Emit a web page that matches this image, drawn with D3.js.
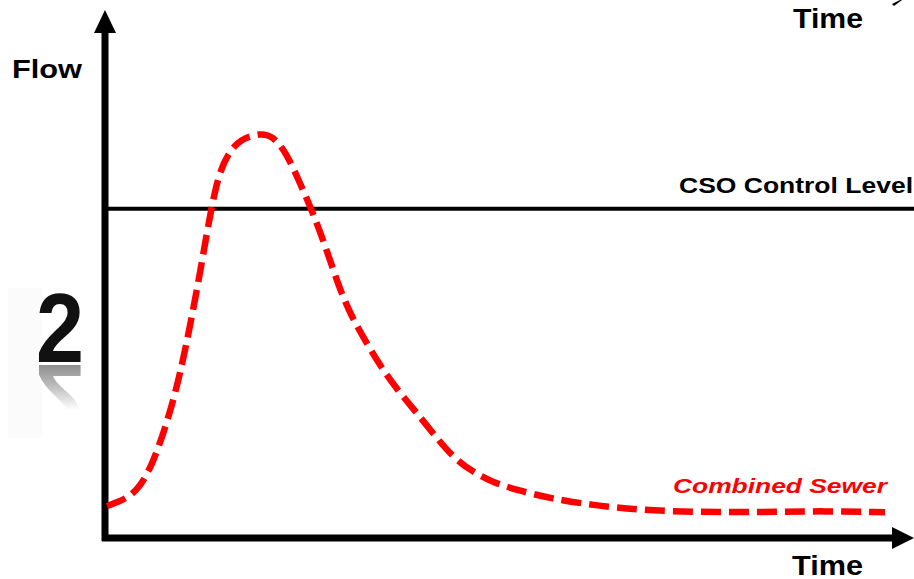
<!DOCTYPE html>
<html>
<head>
<meta charset="utf-8">
<script src="https://cdn.jsdelivr.net/npm/d3@7"></script>
<style>
  html, body { margin: 0; padding: 0; background: #fff; }
  svg { display: block; }
  text { font-family: "Liberation Sans", Arial, Helvetica, sans-serif; }
</style>
</head>
<body>
<svg id="chart" width="914" height="579"></svg>
<script>
// ---- data (time in arbitrary units 0-100, flow in arbitrary units 0-100) ----
const sewerTime = [0.25, 1.5, 3.5, 5.2, 6.6, 8.1, 9.4, 10.6, 11.9, 12.9, 14.1, 15.4, 16.9, 19.4, 21,
  22.75, 24.4, 25.9, 27.75, 29.1, 30.6, 32.75, 34.75, 36.9, 39, 41, 43.5, 46, 48.5, 51.5, 55.6, 61,
  66.9, 74.4, 81.9, 89.4, 97.5];
const sewerFlow = [8.3, 9.2, 11.0, 15.5, 22.0, 31.0, 40.7, 52.0, 65.5, 77.0, 89.0, 94.6, 98.0, 99.5, 98.8,
  94.4, 87.1, 80.5, 70.7, 62.7, 55.4, 48.0, 41.5, 35.9, 31.0, 26.1, 20.2, 16.6, 14.1, 12.2, 10.2, 8.5,
  7.3, 6.8, 6.8, 7.1, 6.8];
const csoLevel = [81.0];
const labels = ["Flow", "Time", "CSO Control Level", "Combined Sewer", "2"];

const svg = d3.select("#chart");
const x = d3.scaleLinear().domain([0, 100]).range([105, 905]);
const y = d3.scaleLinear().domain([0, 100]).range([540, 131]);

// ---- "2" with reflection ----
const defs = svg.append("defs");
const grad = defs.append("linearGradient").attr("id", "reflGrad")
  .attr("gradientUnits", "userSpaceOnUse")
  .attr("x1", 0).attr("y1", 364).attr("x2", 0).attr("y2", 410);
grad.append("stop").attr("offset", "0%").attr("stop-color", "#fff");
grad.append("stop").attr("offset", "45%").attr("stop-color", "#999");
grad.append("stop").attr("offset", "100%").attr("stop-color", "#000");
defs.append("mask").attr("id", "reflMask")
  .attr("maskUnits", "userSpaceOnUse")
  .attr("x", 0).attr("y", 364).attr("width", 100).attr("height", 46)
  .append("rect").attr("x", 0).attr("y", 364).attr("width", 100).attr("height", 46)
  .attr("fill", "url(#reflGrad)");

// faint backdrop panel
svg.append("rect").attr("x", 8).attr("y", 288).attr("width", 34).attr("height", 150)
  .attr("fill", "#fbfbfb");

svg.append("g").attr("mask", "url(#reflMask)")
  .append("g").attr("transform", "translate(0,727) scale(1,-1)")
  .append("text")
  .attr("x", 36).attr("y", 362)
  .attr("font-size", 98).attr("font-weight", "bold")
  .attr("textLength", 48).attr("lengthAdjust", "spacingAndGlyphs")
  .attr("fill", "#8c8c8c")
  .text(labels[4]);

svg.append("text")
  .attr("x", 36).attr("y", 362)
  .attr("font-size", 98).attr("font-weight", "bold")
  .attr("textLength", 48).attr("lengthAdjust", "spacingAndGlyphs")
  .attr("fill", "#111")
  .text(labels[4]);

// ---- axes ----
const axisColor = "#000";
svg.append("line")
  .attr("x1", 105).attr("y1", 541).attr("x2", 105).attr("y2", 28)
  .attr("stroke", axisColor).attr("stroke-width", 7);
svg.append("path")
  .attr("d", "M105,10 L94,33 L116,33 Z").attr("fill", axisColor);

svg.append("line")
  .attr("x1", 102).attr("y1", 538).attr("x2", 896).attr("y2", 538)
  .attr("stroke", axisColor).attr("stroke-width", 7);
svg.append("path")
  .attr("d", "M914,538 L892,527 L892,549 Z").attr("fill", axisColor);

// small arrow fragment at top-right (from the cropped upper chart)
svg.append("path")
  .attr("d", "M892,4 L900,0 L902,0 L894,6 Z").attr("fill", "#000");

// ---- CSO control level ----
svg.selectAll("line.cso").data(csoLevel).enter().append("line")
  .attr("class", "cso")
  .attr("x1", 105).attr("x2", 914)
  .attr("y1", d => y(d)).attr("y2", d => y(d))
  .attr("stroke", "#000").attr("stroke-width", 4);

// ---- combined sewer curve ----
const pts = sewerTime.map((t, i) => [t, sewerFlow[i]]);
const line = d3.line().x(d => x(d[0])).y(d => y(d[1])).curve(d3.curveBasis);
svg.append("path")
  .datum(pts)
  .attr("d", line)
  .attr("fill", "none")
  .attr("stroke", "#ff0000")
  .attr("stroke-width", 6.5)
  .attr("stroke-dasharray", "20,8");

// ---- labels ----
function label(txt, xx, yy, size, len, opts = {}) {
  return svg.append("text")
    .attr("x", xx).attr("y", yy)
    .attr("font-size", size).attr("font-weight", "bold")
    .attr("font-style", opts.italic ? "italic" : "normal")
    .attr("fill", opts.color || "#000")
    .attr("textLength", len).attr("lengthAdjust", "spacingAndGlyphs")
    .text(txt);
}
label(labels[0], 12, 78, 26.5, 70);
label(labels[1], 793, 28, 28, 70);
label(labels[1], 792, 575, 28, 71);
label(labels[2], 679, 193, 22, 234);
label(labels[3], 673, 493, 21, 214, { italic: true, color: "#ff0000" });
</script>
</body>
</html>
